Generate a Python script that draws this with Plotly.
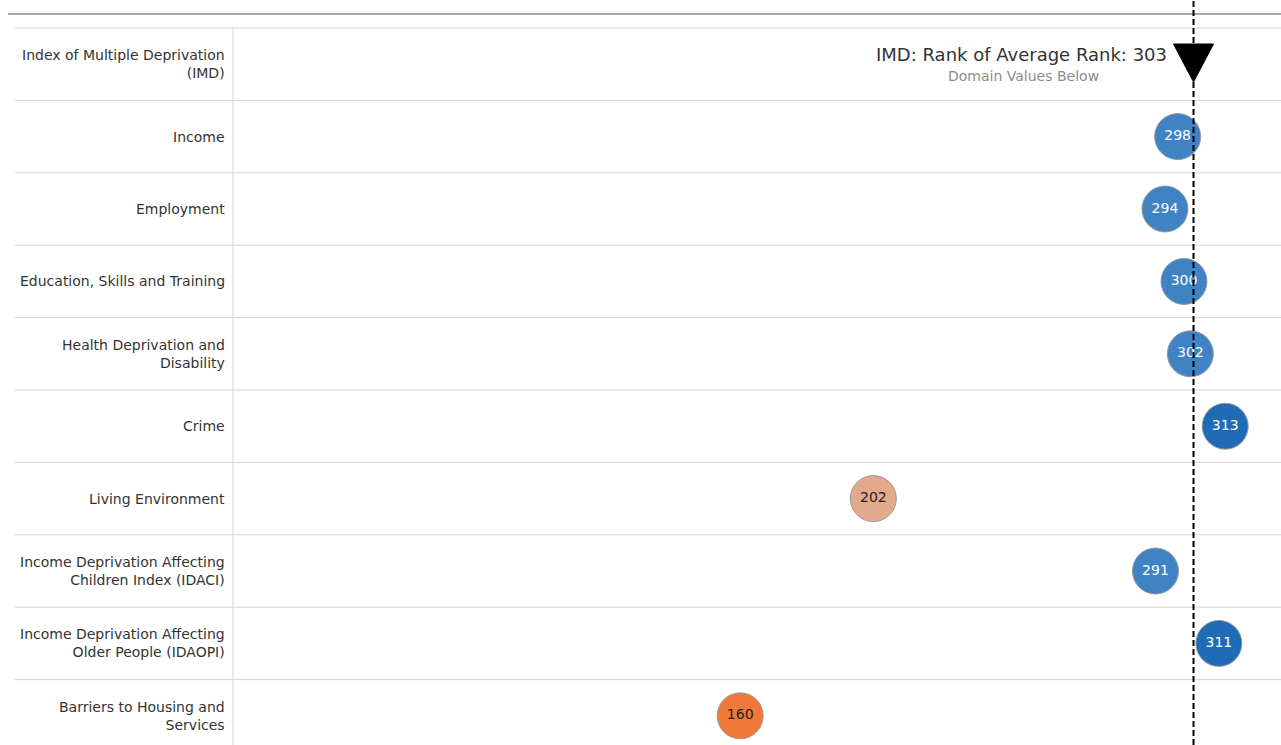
import plotly.graph_objects as go

# ---- data ----
categories = [
    "Index of Multiple Deprivation<br>(IMD)",
    "Income",
    "Employment",
    "Education, Skills and Training",
    "Health Deprivation and<br>Disability",
    "Crime",
    "Living Environment",
    "Income Deprivation Affecting<br>Children Index (IDACI)",
    "Income Deprivation Affecting<br>Older People (IDAOPI)",
    "Barriers to Housing and<br>Services",
]
domain_names = categories[1:]
domain_values = [298, 294, 300, 302, 313, 202, 291, 311, 160]
imd_rank = 303
bubble_colors = ["#3f83c4", "#3f83c4", "#3f83c4", "#3f83c4", "#1f6bb5",
                 "#e3a98b", "#3f83c4", "#1f6bb5", "#f07838"]
text_colors = ["white", "white", "white", "white", "white",
               "#222222", "white", "white", "#222222"]

W, H = 1281, 745
x_left_px = 233
x_max = 330.6
row_h = 72.4
top_px = 28
y_top = -top_px / row_h
y_bot = (H - top_px) / row_h

fig = go.Figure()

row_centers = [i + 0.5 for i in range(len(categories))]
domain_y = row_centers[1:]

fig.add_trace(go.Scatter(
    x=domain_values, y=domain_y, mode="markers+text",
    marker=dict(size=46, color=bubble_colors, line=dict(color="#9a9a9a", width=1), opacity=1),
    text=[str(v) for v in domain_values],
    textposition="middle center",
    textfont=dict(family="DejaVu Sans", size=14, color=text_colors),
    hoverinfo="skip", showlegend=False, cliponaxis=False,
))

# inverted triangle marker at IMD rank
tri_half_w = 20 / ((W - x_left_px) / x_max)
tri_top = (44 - top_px) / row_h
tri_bot = (82 - top_px) / row_h
fig.add_trace(go.Scatter(
    x=[imd_rank - tri_half_w, imd_rank + tri_half_w, imd_rank, imd_rank - tri_half_w],
    y=[tri_top, tri_top, tri_bot, tri_top],
    mode="lines", fill="toself", fillcolor="black",
    line=dict(color="black", width=1), hoverinfo="skip", showlegend=False,
))

shapes = []
# top thick gray line
shapes.append(dict(type="line", xref="paper", yref="y", x0=8 / W, x1=1,
                   y0=(14 - top_px) / row_h, y1=(14 - top_px) / row_h,
                   line=dict(color="#ada7a7", width=2)))
# row separators
for k in range(len(categories)):
    shapes.append(dict(type="line", xref="paper", yref="y", x0=15 / W, x1=1,
                       y0=k, y1=k, line=dict(color="#d6d6d6", width=1), layer="below"))
# vertical divider
shapes.append(dict(type="line", xref="paper", yref="y", x0=x_left_px / W, x1=x_left_px / W,
                   y0=0, y1=y_bot, line=dict(color="#d6d6d6", width=1), layer="below"))
# dashed IMD line
shapes.append(dict(type="line", xref="x", yref="paper", x0=imd_rank, x1=imd_rank,
                   y0=0, y1=1, line=dict(color="black", width=2, dash="6px,3px"), layer="above"))

annotations = []
for name, yc in zip(categories, row_centers):
    annotations.append(dict(xref="paper", yref="y", x=227 / W, y=yc, text=name,
                            xanchor="right", yanchor="middle", align="right", showarrow=False,
                            font=dict(family="DejaVu Sans", size=14, color="#333333")))
annotations.append(dict(xref="x", yref="y", x=imd_rank, y=(54 - top_px) / row_h,
                        text=f"IMD: Rank of Average Rank: {imd_rank}", xanchor="right",
                        yanchor="middle", xshift=-25, showarrow=False,
                        font=dict(family="DejaVu Sans", size=18, color="#333333")))
annotations.append(dict(xref="x", yref="y", x=imd_rank, y=(76 - top_px) / row_h,
                        text="Domain Values Below", xanchor="center",
                        yanchor="middle", xshift=-170, showarrow=False,
                        font=dict(family="DejaVu Sans", size=14, color="#8c8c8c")))

fig.update_layout(
    width=W, height=H, margin=dict(l=0, r=0, t=0, b=0),
    paper_bgcolor="white", plot_bgcolor="white",
    xaxis=dict(domain=[x_left_px / W, 1], range=[0, x_max], visible=False, fixedrange=True),
    yaxis=dict(domain=[0, 1], range=[y_bot, y_top], visible=False, fixedrange=True),
    shapes=shapes, annotations=annotations, showlegend=False,
)

fig.write_html("out.html", config={"displayModeBar": False},
               post_script="document.body.style.margin='0';document.body.style.overflow='hidden';")
